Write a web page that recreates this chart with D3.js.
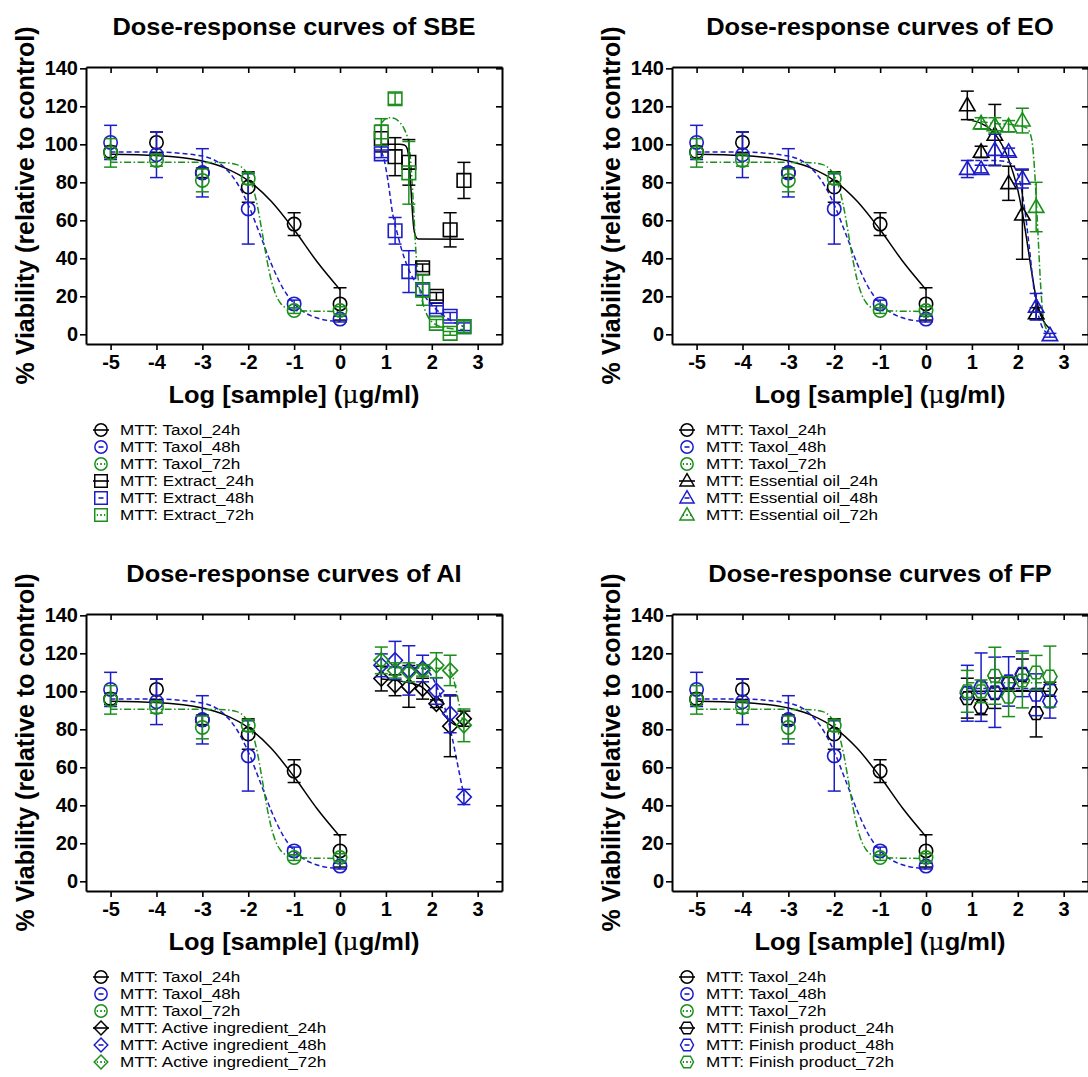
<!DOCTYPE html>
<html><head><meta charset="utf-8">
<script src="https://cdn.jsdelivr.net/npm/d3@7"></script>
<style>body{margin:0;background:#fff;} svg{display:block;}</style>
</head><body>
<svg id="chart" width="1088" height="1077"></svg>
<script>
// ---------- data ----------
const xTicks = [-5, -4, -3, -2, -1, 0, 1, 2, 3];
const yTicks = [0, 20, 40, 60, 80, 100, 120, 140];
const panelTitles = ["Dose-response curves of SBE", "Dose-response curves of EO", "Dose-response curves of AI", "Dose-response curves of FP"];
const sampleNames = ["Extract", "Essential oil", "Active ingredient", "Finish product"];
const timeLabels = ["24h", "48h", "72h"];

const taxolDose = [-5, -4, -3, -2, -1, 0];
const taxol24 = [96, 101, 85, 77.5, 58, 16];
const taxol24Err = [3, 5.5, 2.5, 8, 6, 8.5];
const taxol48 = [101, 94.5, 85, 66, 16, 8];
const taxol48Err = [9, 12, 12.7, 18.5, 2, 1.5];
const taxol72 = [95.5, 91.5, 81, 82, 12.5, 12.5];
const taxol72Err = [7.5, 3, 6, 3, 1.5, 2];
const taxol24Fit = [[-5, 94.8], [-4, 94.1], [-3, 91.2], [-2.5, 87.5], [-2, 80.9], [-1.5, 70], [-1, 55], [-0.5, 38.2], [0, 23.5]];
const taxol48Fit = [[-5, 96], [-4, 95.9], [-3, 93.8], [-2.5, 87.4], [-2.25, 79.9], [-2, 68.2], [-1.75, 52.9], [-1.5, 37.2], [-1.25, 24.5], [-1, 16.1], [-0.75, 11.2], [-0.5, 8.6], [0, 6.6]];
const taxol72Fit = [[-5, 90.5], [-3, 90.5], [-2.5, 90.3], [-2.25, 89.3], [-2.1, 87.1], [-2, 83.7], [-1.9, 77.5], [-1.8, 67.6], [-1.7, 54.1], [-1.6, 40], [-1.5, 28.5], [-1.4, 20.9], [-1.3, 16.5], [-1.2, 14.2], [-1, 12.5], [0, 12]];

const sampleDose = [0.9, 1.2, 1.5, 1.8, 2.1, 2.4, 2.7];

const sbe24 = [103, 93.5, 90.5, 35, 20, 55, 81];
const sbe24Err = [7, 10, 12, 2, 2, 9, 9.5];
const sbe48 = [95, 54.5, 33, 23.5, 13, 9.5, 4];
const sbe48Err = [2, 7, 11, 3, 2, 2, 2];
const sbe72 = [106.5, 124, 85, 23.3, 5.8, 0.5, 4];
const sbe72Err = [7, 3, 16.5, 8, 2, 1, 3];
const sbe24Fit = [[0.9, 100], [1.3, 100], [1.4, 99.6], [1.45, 98.5], [1.5, 92.4], [1.525, 84.7], [1.55, 75], [1.575, 65.3], [1.6, 57.6], [1.65, 51.5], [1.7, 50.2], [2.7, 50]];
const sbe48Fit = [[0.9, 96], [0.95, 93], [1.05, 80], [1.15, 63], [1.25, 53], [1.35, 44], [1.5, 34], [1.65, 27], [1.8, 21.5], [2.1, 13], [2.4, 7.5], [2.7, 4]];
const sbe72Fit = [[0.9, 111], [1.0, 113.5], [1.1, 114], [1.2, 113.5], [1.3, 111.5], [1.4, 108], [1.5, 100], [1.55, 88], [1.6, 68], [1.65, 45], [1.7, 30], [1.8, 17], [1.9, 10], [2.1, 5], [2.4, 3], [2.7, 2.5]];

const eo24 = [120.5, 96, 105, 79.5, 63, 11, null];
const eo24Err = [7.5, 3, 16, 9, 23.5, 3, 0];
const eo48 = [87, 87, 97, 96, 82, 14.5, -0.5];
const eo48Err = [4.5, 2, 8.3, 2, 5, 7, 1];
const eo72 = [null, 111, 110, 109.5, 112.5, 67, null];
const eo72Err = [0, 3, 4, 3, 6.5, 13, 0];
const eo24Fit = [[0.9, 113], [1.2, 111], [1.5, 105.5], [1.8, 92], [2.0, 76], [2.1, 64], [2.2, 49], [2.3, 33], [2.4, 19], [2.5, 10], [2.6, 5.5], [2.7, 3]];
const eo48Fit = [[0.9, 91.5], [1.5, 91.5], [1.8, 90.5], [1.95, 87], [2.05, 80], [2.15, 66], [2.25, 46], [2.35, 24], [2.45, 10], [2.55, 3], [2.7, 0]];
const eo72Fit = [[0.9, 113], [1.5, 111], [2.0, 110], [2.2, 108.5], [2.3, 103], [2.35, 92], [2.4, 72], [2.45, 48], [2.5, 25], [2.55, 10], [2.6, 4], [2.7, 1]];

const ai24 = [106.7, 103.2, 102.6, 101.4, 93.5, 81.6, 85.6];
const ai24Err = [6.5, 5.5, 11, 5.5, 2, 16, 4];
const ai48 = [113.7, 116.3, 111, 112, 100.2, 88.2, 44.4];
const ai48Err = [6, 10, 13, 7, 7, 10, 4];
const ai72 = [116.3, 111, 110, 111, 113.7, 111, 82.1];
const ai72Err = [7, 4, 5, 3, 6.6, 8, 8.6];
const ai24Fit = [[0.9, 106.5], [1.5, 104.5], [1.8, 102], [2.0, 97], [2.2, 90], [2.4, 84], [2.55, 82], [2.7, 81.5]];
const ai48Fit = [[0.9, 113], [1.8, 112], [2.0, 108], [2.1, 103], [2.3, 90], [2.45, 75], [2.55, 63], [2.7, 45]];
const ai72Fit = [[0.9, 112.5], [2.3, 112], [2.42, 110], [2.5, 104], [2.58, 95], [2.65, 87], [2.7, 82]];

const fp24 = [96.4, 91.7, 99, 104.3, 108.7, 88.5, 101.1];
const fp24Err = [10.5, 4, 8, 3, 8.3, 12.5, 3.7];
const fp48 = [99, 102.2, 99.5, 105.2, 109.2, 98.2, 94.7];
const fp48Err = [14.7, 18, 18.5, 13, 12, 11, 8.8];
const fp72 = [100, 100, 108.2, 97.2, 105.7, 109.9, 107.8];
const fp72Err = [11, 6, 15, 10.5, 14.4, 9, 16];
const fp24Fit = [[0.9, 100], [2.7, 100]];
const fp48Fit = [[0.9, 101.5], [2.7, 101.5]];
const fp72Fit = [[0.9, 104.5], [2.7, 104.5]];

// ---------- styles ----------
const colors = ["#000000", "#1c1cc9", "#1b8f1b"];
const dashes = [null, "5,3", "7,2.5,1.5,2.5"];
const shapes = ["square", "triangle", "diamond", "hexagon"];

const panels = [
  { samples: [[sbe24, sbe24Err, sbe24Fit], [sbe48, sbe48Err, sbe48Fit], [sbe72, sbe72Err, sbe72Fit]] },
  { samples: [[eo24, eo24Err, eo24Fit], [eo48, eo48Err, eo48Fit], [eo72, eo72Err, eo72Fit]] },
  { samples: [[ai24, ai24Err, ai24Fit], [ai48, ai48Err, ai48Fit], [ai72, ai72Err, ai72Fit]] },
  { samples: [[fp24, fp24Err, fp24Fit], [fp48, fp48Err, fp48Fit], [fp72, fp72Err, fp72Fit]] }
];
const taxolSeries = [[taxol24, taxol24Err, taxol24Fit], [taxol48, taxol48Err, taxol48Fit], [taxol72, taxol72Err, taxol72Fit]];

const svg = d3.select("#chart");
const W = 416, H = 277;
const lefts = [86, 672], tops = [67, 614];
const FONT = "'Liberation Sans', Arial, Helvetica, sans-serif";

function shapePath(kind) {
  if (kind === "circle") return d3.symbol(d3.symbolCircle, Math.PI * 6.7 * 6.7)();
  if (kind === "square") return "M-6.8,-6.8H6.8V6.8H-6.8Z";
  if (kind === "triangle") return "M0,-8L7.7,5.4L-7.7,5.4Z";
  if (kind === "diamond") return "M0,-7.6L7.4,0L0,7.6L-7.4,0Z";
  if (kind === "hexagon") return "M-7.1,0L-3.7,-6.3L3.7,-6.3L7.1,0L3.7,6.3L-3.7,6.3Z";
}

panels.forEach((p, i) => {
  const col = i % 2, row = Math.floor(i / 2);
  const g = svg.append("g").attr("transform", `translate(${lefts[col]},${tops[row]})`);
  const x = d3.scaleLinear().domain([-5.536, 3.53]).range([0, W]);
  const y = d3.scaleLinear().domain([-5.1, 140.7]).range([H, 0]);

  // axes
  const axB = g.append("g").attr("transform", `translate(0,${H})`)
    .call(d3.axisBottom(x).tickValues(xTicks).tickSize(6).tickSizeOuter(0).tickPadding(5).tickFormat(d => String(d)));
  const axL = g.append("g")
    .call(d3.axisLeft(y).tickValues(yTicks).tickSize(6).tickSizeOuter(0).tickPadding(2).tickFormat(d => String(d)));
  const axT = g.append("g")
    .call(d3.axisTop(x).tickValues(xTicks).tickSize(-6).tickSizeOuter(0).tickFormat(""));
  const axR = g.append("g").attr("transform", `translate(${W},0)`)
    .call(d3.axisRight(y).tickValues(yTicks).tickSize(-6).tickSizeOuter(0).tickFormat(""));
  [axB, axL, axT, axR].forEach(a => {
    a.select(".domain").attr("stroke", "#000").attr("stroke-width", 2);
    a.selectAll(".tick line").attr("stroke", "#000").attr("stroke-width", 1.6);
    a.selectAll("text").attr("font-family", FONT).attr("font-weight", "bold").attr("font-size", 20).attr("fill", "#000");
  });

  // title and labels
  g.append("text").attr("transform", `translate(${W / 2},-32) scale(1.06,1)`).attr("text-anchor", "middle")
    .attr("font-family", FONT).attr("font-weight", "bold").attr("font-size", 24).text(panelTitles[i]);
  g.append("text").attr("transform", `translate(-52,${H / 2}) rotate(-90)`).attr("text-anchor", "middle")
    .attr("font-family", FONT).attr("font-weight", "bold").attr("font-size", 25).text("% Viability (relative to control)");
  const xl = g.append("text").attr("transform", `translate(${W / 2},${H + 59}) scale(1.06,1)`).attr("text-anchor", "middle")
    .attr("font-family", FONT).attr("font-weight", "bold").attr("font-size", 24);
  xl.append("tspan").text("Log [sample] (");
  xl.append("tspan").attr("font-family", "'DejaVu Serif', serif").attr("font-weight", "normal").text("\u03bc");
  xl.append("tspan").text("g/ml)");

  const line = d3.line().x(d => x(d[0])).y(d => y(d[1])).curve(d3.curveMonotoneX);

  const allSeries = [];
  taxolSeries.forEach((s, k) => allSeries.push({ dose: taxolDose, vals: s[0], err: s[1], fit: s[2], k, shape: "circle" }));
  p.samples.forEach((s, k) => allSeries.push({ dose: sampleDose, vals: s[0], err: s[1], fit: s[2], k, shape: shapes[i] }));

  // fitted curves
  allSeries.forEach(s => {
    g.append("path").attr("d", line(s.fit)).attr("fill", "none")
      .attr("stroke", colors[s.k]).attr("stroke-width", 1.5)
      .attr("stroke-dasharray", dashes[s.k]);
  });
  // error bars and markers
  allSeries.forEach(s => {
    const pts = s.dose.map((d, j) => ({ d, v: s.vals[j], e: s.err[j] })).filter(o => o.v !== null);
    const gs = g.append("g").attr("stroke", colors[s.k]).attr("fill", "none").attr("stroke-width", 1.5);
    pts.forEach(o => {
      const cx = x(o.d);
      if (o.e > 0) {
        gs.append("line").attr("x1", cx).attr("x2", cx).attr("y1", y(o.v + o.e)).attr("y2", y(o.v - o.e));
        gs.append("line").attr("x1", cx - 6.5).attr("x2", cx + 6.5).attr("y1", y(o.v + o.e)).attr("y2", y(o.v + o.e));
        gs.append("line").attr("x1", cx - 6.5).attr("x2", cx + 6.5).attr("y1", y(o.v - o.e)).attr("y2", y(o.v - o.e));
      }
      gs.append("path").attr("d", shapePath(s.shape)).attr("transform", `translate(${cx},${y(o.v)})`)
        .attr("stroke-width", 1.6);
    });
  });

  // legend
  const legendNames = ["Taxol_24h", "Taxol_48h", "Taxol_72h"].concat(timeLabels.map(t => sampleNames[i] + "_" + t));
  legendNames.forEach((name, r) => {
    const ly = H + 86 + r * 17;
    const k = r % 3;
    const shape = r < 3 ? "circle" : shapes[i];
    const lg = g.append("g").attr("transform", `translate(15,${ly})`).attr("stroke", colors[k]).attr("fill", "none").attr("stroke-width", 1.6);
    if (k === 0) lg.append("line").attr("x1", -8).attr("x2", 8).attr("y1", 0).attr("y2", 0);
    else if (k === 1) lg.append("line").attr("x1", -2.5).attr("x2", 2.5).attr("y1", 0).attr("y2", 0);
    else {
      lg.append("line").attr("x1", -0.8).attr("x2", 0.8).attr("y1", 0).attr("y2", 0).attr("stroke-width", 1.8);
      lg.append("line").attr("x1", -4.2).attr("x2", -3).attr("y1", 0).attr("y2", 0).attr("stroke-width", 1.8);
      lg.append("line").attr("x1", 3).attr("x2", 4.2).attr("y1", 0).attr("y2", 0).attr("stroke-width", 1.8);
    }
    lg.append("path").attr("d", shapePath(shape)).attr("transform", "scale(0.92)");
    g.append("text").attr("transform", `translate(34,${ly + 5}) scale(1.18,1)`)
      .attr("font-family", FONT).attr("font-size", 14.5).attr("fill", "#000").text("MTT: " + name);
  });
});
</script>
</body></html>
